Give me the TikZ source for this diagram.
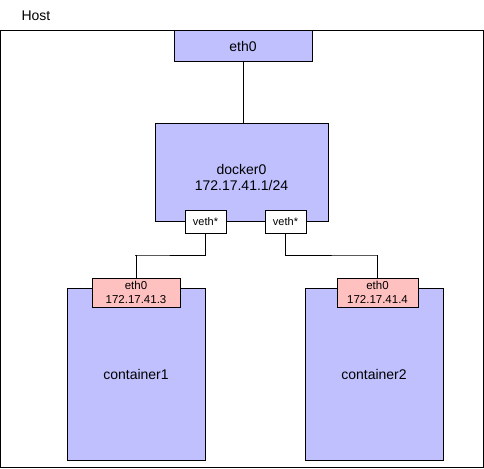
\documentclass[tikz,border=0pt]{standalone}
\usepackage{fontspec}
\setmainfont{Liberation Sans}
\definecolor{bluef}{RGB}{192,192,255}
\definecolor{pinkf}{RGB}{255,192,192}
\begin{document}
\begin{tikzpicture}[x=1pt,y=-1pt,
  box/.style={draw=black,line width=1pt,inner sep=0pt,outer sep=0pt},
  lbl/.style={font=\fontsize{14}{16}\selectfont,align=center},
  small/.style={font=\fontsize{11}{13}\selectfont,align=center},
  wire/.style={draw=black,line width=0.8pt}]
\useasboundingbox (0,0) rectangle (484,468);
\node[box,minimum width=483pt,minimum height=436pt,anchor=north west] (host) at (0.5,31) {};
\node[lbl,anchor=west] (hostl) at (18,16) {Host};
\node[box,fill=bluef,minimum width=138pt,minimum height=31pt,anchor=north west,lbl] (eth) at (174,31) {eth0};
\node[box,fill=bluef,minimum width=173pt,minimum height=98pt,anchor=north west] (docker) at (155,123) {};
\node[lbl] at ([yshift=-5pt]docker.center) {docker0\\172.17.41.1/24};
\node[box,fill=white,minimum width=41pt,minimum height=23pt,anchor=north west,small] (v1) at (185,210) {veth*};
\node[box,fill=white,minimum width=41pt,minimum height=23pt,anchor=north west,small] (v2) at (265,210) {veth*};
\node[box,fill=bluef,minimum width=138pt,minimum height=172pt,anchor=north west,lbl] (c1) at (67,288) {container1};
\node[box,fill=bluef,minimum width=138pt,minimum height=172pt,anchor=north west,lbl] (c2) at (305,288) {container2};
\node[box,fill=pinkf,minimum width=88pt,minimum height=29pt,anchor=north west,font=\fontsize{11.5}{13.5}\selectfont,align=center] (e1) at (92,278) {eth0\\172.17.41.3};
\node[box,fill=pinkf,minimum width=81pt,minimum height=29pt,anchor=north west,font=\fontsize{11.5}{13.5}\selectfont,align=center] (e2) at (337,278) {eth0\\172.17.41.4};
\draw[wire] (eth.south) -- (eth.south |- docker.north);
\draw[wire] (v1.south) |- (135,255) -| (e1.north);
\draw[wire] (v2.south) |- (377,255) -| (e2.north);
\end{tikzpicture}
\end{document}
